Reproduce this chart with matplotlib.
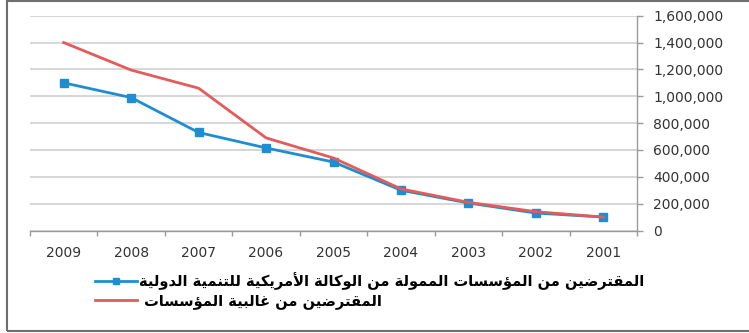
import matplotlib
matplotlib.use("Agg")
import matplotlib.pyplot as plt
from matplotlib.patches import Rectangle
from matplotlib.ticker import FuncFormatter, FixedLocator

years = ["2009", "2008", "2007", "2006", "2005", "2004", "2003", "2002", "2001"]
usaid_borrowers = [1100000, 990000, 730000, 615000, 510000, 300000, 205000, 130000, 100000]
all_borrowers = [1400000, 1195000, 1060000, 690000, 540000, 310000, 210000, 140000, 100000]

label_usaid = "المقترضين من المؤسسات الممولة من الوكالة الأمريكية للتنمية الدولية"
label_all = "المقترضين من غالبية المؤسسات "

# (isolated, final, initial, medial) presentation forms
FORMS = {
    "\u0627": ("\uFE8D", "\uFE8E", None, None),
    "\u0623": ("\uFE83", "\uFE84", None, None),
    "\u0624": ("\uFE85", "\uFE86", None, None),
    "\u0628": ("\uFE8F", "\uFE90", "\uFE91", "\uFE92"),
    "\u0629": ("\uFE93", "\uFE94", None, None),
    "\u062A": ("\uFE95", "\uFE96", "\uFE97", "\uFE98"),
    "\u062F": ("\uFEA9", "\uFEAA", None, None),
    "\u0631": ("\uFEAD", "\uFEAE", None, None),
    "\u0633": ("\uFEB1", "\uFEB2", "\uFEB3", "\uFEB4"),
    "\u0636": ("\uFEBD", "\uFEBE", "\uFEBF", "\uFEC0"),
    "\u063A": ("\uFECD", "\uFECE", "\uFECF", "\uFED0"),
    "\u0642": ("\uFED5", "\uFED6", "\uFED7", "\uFED8"),
    "\u0643": ("\uFED9", "\uFEDA", "\uFEDB", "\uFEDC"),
    "\u0644": ("\uFEDD", "\uFEDE", "\uFEDF", "\uFEE0"),
    "\u0645": ("\uFEE1", "\uFEE2", "\uFEE3", "\uFEE4"),
    "\u0646": ("\uFEE5", "\uFEE6", "\uFEE7", "\uFEE8"),
    "\u0648": ("\uFEED", "\uFEEE", None, None),
    "\u064A": ("\uFEF1", "\uFEF2", "\uFEF3", "\uFEF4"),
    "\u0644\u0623": ("\uFEF7", "\uFEF8", None, None),
    "\u0644\u0627": ("\uFEFB", "\uFEFC", None, None),
}


def shape_arabic(text):
    # split into units, merging lam-alef pairs into one ligature
    units = []
    i = 0
    while i < len(text):
        pair = text[i:i + 2]
        if pair in FORMS and len(pair) == 2:
            units.append(pair)
            i += 2
        else:
            units.append(text[i])
            i += 1
    out = []
    for k, u in enumerate(units):
        if u not in FORMS:
            out.append(u)
            continue
        iso, fin, ini, med = FORMS[u]
        prev = units[k - 1] if k > 0 else None
        nxt = units[k + 1] if k + 1 < len(units) else None
        joins_prev = prev in FORMS and FORMS[prev][2] is not None
        joins_next = ini is not None and nxt in FORMS
        if joins_prev and joins_next:
            out.append(med)
        elif joins_prev:
            out.append(fin)
        elif joins_next:
            out.append(ini)
        else:
            out.append(iso)
    return "".join(out)[::-1]


blue = "#1f8dd0"
red = "#e35b5b"
grid_gray = "#d0d0d0"
axis_gray = "#9a9a9a"

fig = plt.figure(figsize=(7.49, 3.33), dpi=100)
ax = fig.add_axes([30 / 749, 1 - 230.5 / 333, (637 - 30) / 749, (230.5 - 15.7) / 333])

x = list(range(len(years)))
ax.plot(x, usaid_borrowers, color=blue, lw=2.0, marker="s", markersize=6,
        markeredgecolor=blue, label=shape_arabic(label_usaid), zorder=3)
ax.plot(x, all_borrowers, color=red, lw=2.0, label=shape_arabic(label_all), zorder=3)

ax.set_xlim(-0.5, len(years) - 0.5)
ax.set_ylim(0, 1600000)

ax.set_xticks(x)
ax.set_xticklabels(years)
ax.xaxis.set_minor_locator(FixedLocator([i - 0.5 for i in range(len(years) + 1)]))
ax.tick_params(axis="x", which="major", length=0, pad=11, labelsize=10, labelcolor="#333333")
ax.tick_params(axis="x", which="minor", length=3.5, width=1, color=axis_gray, direction="out")

ax.yaxis.tick_right()
ax.set_yticks(range(0, 1600001, 200000))
ax.yaxis.set_major_formatter(FuncFormatter(lambda v, p: f"{int(v):,}"))
ax.tick_params(axis="y", length=4.5, width=1, color=axis_gray, pad=7,
               labelsize=10, labelcolor="#333333")

ax.grid(axis="y", color=grid_gray, lw=1.2)
ax.set_axisbelow(True)
for side in ["left", "top"]:
    ax.spines[side].set_visible(False)
for side in ["right", "bottom"]:
    ax.spines[side].set_color(axis_gray)
    ax.spines[side].set_linewidth(1)

leg = fig.legend(loc="upper left", bbox_to_anchor=(95 / 749, 1 - 272 / 333),
                 frameon=False, handlelength=2.9, handletextpad=0.1,
                 labelspacing=0.25, borderaxespad=0, borderpad=0, markerscale=0.8,
                 prop={"family": "DejaVu Sans", "weight": "bold", "size": 10.5})

fig.patches.append(Rectangle((7 / 749, 2 / 333), 1.2, 1 - 3 / 333, transform=fig.transFigure,
                             fill=False, edgecolor="#6f6f6f", lw=1.5))

fig.savefig("out.png", dpi=100)
